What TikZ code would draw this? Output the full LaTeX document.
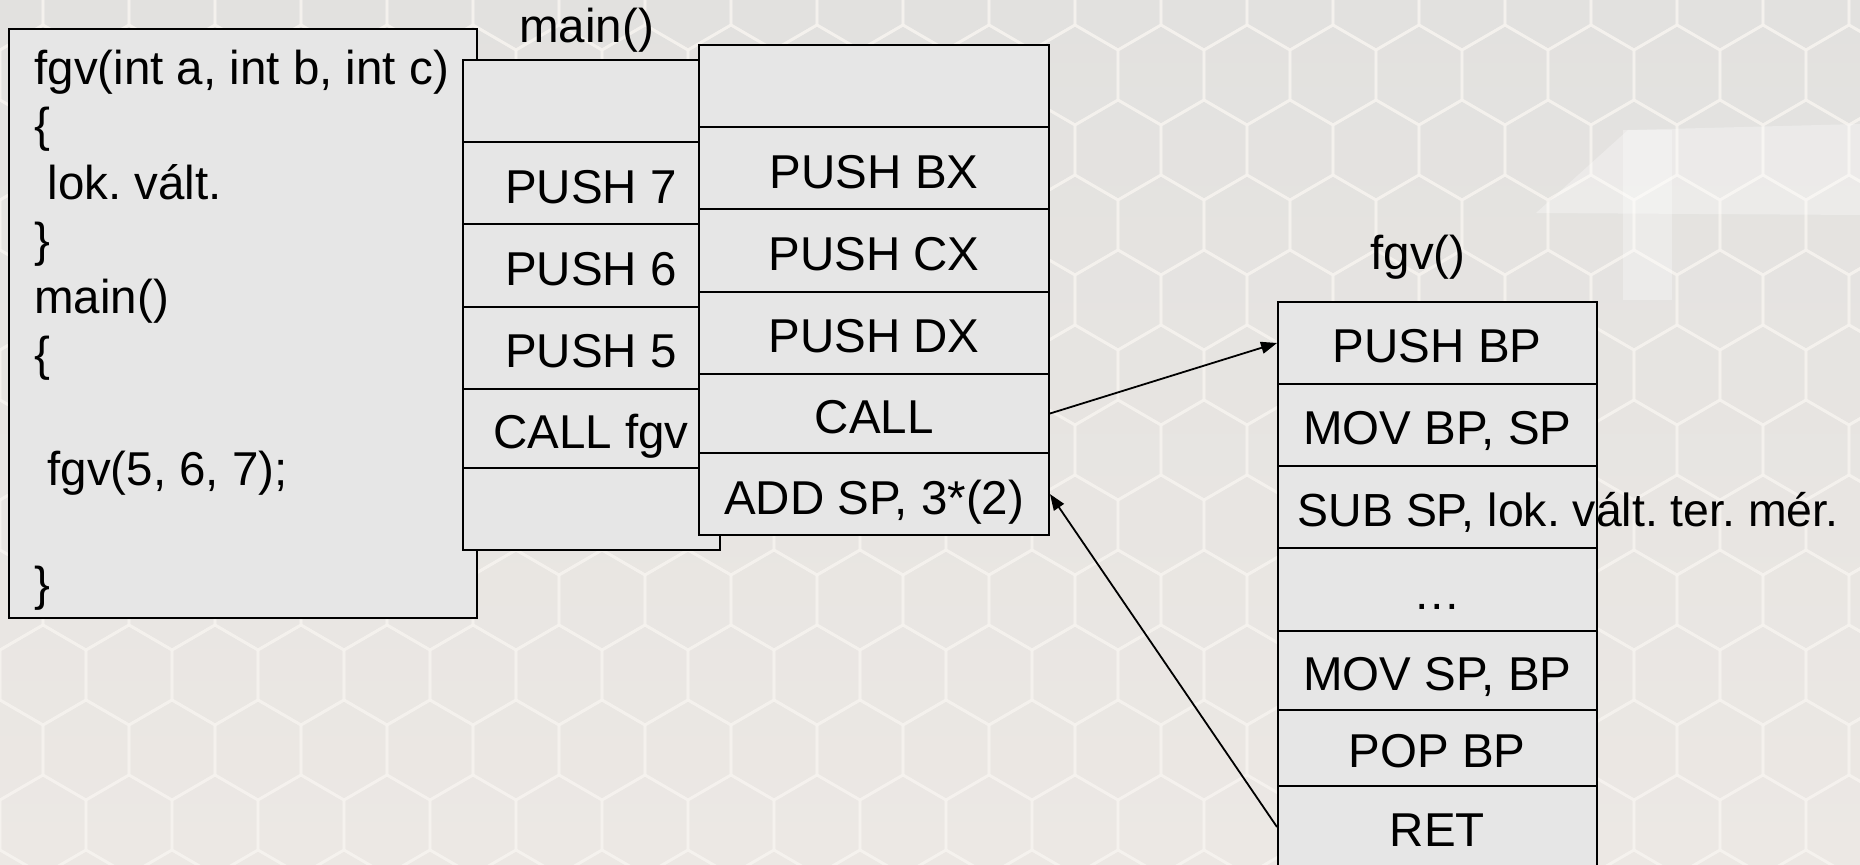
\documentclass[tikz,border=0pt]{standalone}
\usepackage{fontspec}
\setmainfont{Liberation Sans}
\usetikzlibrary{arrows.meta}
\definecolor{bgtop}{HTML}{E2E1DF}
\definecolor{bgbot}{HTML}{ECE8E4}
\definecolor{mesh}{HTML}{F6F3EF}
\definecolor{cellfill}{HTML}{E6E6E6}
\frenchspacing

\begin{document}
\begin{tikzpicture}[x=0.5pt, y=-0.5pt,
  cell/.style={draw=black, line width=1pt, fill=cellfill, inner sep=0pt,
    text height=20pt, text depth=0pt,
    font=\fontsize{23.75}{28}\selectfont},
  lbl/.style={font=\fontsize{23.75}{28}\selectfont, inner sep=0pt, anchor=base west},
  link/.style={line width=0.9pt, -{Triangle[length=8pt, width=6pt]}},
  hex/.style={draw=mesh, line width=1.4pt, opacity=0.75}
]
% canvas and backdrop
\useasboundingbox (0,0) rectangle (1860,865);
\shade[top color=bgtop, bottom color=bgbot] (0,0) rectangle (1860,865);
\foreach \j in {0,...,12}{
  \foreach \i in {-1,...,22}{
    \pgfmathsetmacro\cx{\i*86 + mod(\j,2)*43}
    \pgfmathsetmacro\cy{\j*75}
    \draw[hex] (\cx-43,\cy-25) -- (\cx-43,\cy+25) -- (\cx,\cy+50)
      -- (\cx+43,\cy+25) -- (\cx+43,\cy-25) -- (\cx,\cy-50) -- cycle;
  }
}
\fill[white, opacity=0.3] (1536,213) -- (1628,130) -- (1860,124) -- (1860,215) -- cycle;
\fill[white, opacity=0.3] (1623,130) rectangle (1672,300);

% source listing
\node[cell, minimum width=234pt, minimum height=294.5pt] (code) at (242.5,324) {};
\node[lbl] (src) at (34,84.5) {\vtop{\baselineskip=28.65pt\lineskiplimit=-100pt\lineskip=0pt
  \hbox{fgv(int a, int b, int c)}
  \hbox{\{}
  \hbox{\ lok. vált.}
  \hbox{\}}
  \hbox{main()}
  \hbox{\{}
  \hbox{}
  \hbox{\ fgv(5, 6, 7);}
  \hbox{}
  \hbox{\}}}};

% caller: argument pushes
\begin{scope}[every node/.append style={cell, minimum width=128.5pt}]
  \node[minimum height=40.8pt]  (m0) at (591,101.2) {};
  \node[minimum height=41.25pt] (m1) at (591,183.25) {PUSH 7};
  \node[minimum height=41.25pt] (m2) at (591,265.75) {PUSH 6};
  \node[minimum height=41pt]    (m3) at (591,348) {PUSH 5};
  \node[minimum height=39.5pt]  (m4) at (591,428.5) {CALL fgv};
  \node[minimum height=40.9pt]  (m5) at (591,508.9) {};
\end{scope}

% caller: register saves
\begin{scope}[every node/.append style={cell, minimum width=174.85pt}]
  \node[minimum height=41.15pt] (r0) at (874.15,86.15) {};
  \node[minimum height=41pt]    (r1) at (874.15,168.3) {PUSH BX};
  \node[minimum height=41.2pt]  (r2) at (874.15,250.5) {PUSH CX};
  \node[minimum height=41pt]    (r3) at (874.15,332.7) {PUSH DX};
  \node[minimum height=39.8pt]  (r4) at (874.15,413.5) {CALL};
  \node[minimum height=40.85pt] (r5) at (874.15,494.15) {ADD SP, 3*(2)};
\end{scope}

% callee frame
\begin{scope}[every node/.append style={cell, minimum width=159.25pt}]
  \node[minimum height=41pt]   (f0) at (1437.25,343) {PUSH BP};
  \node[minimum height=41pt]   (f1) at (1437.25,425) {MOV BP, SP};
  \node[minimum height=41pt]   (f2) at (1437.25,507)
    {\makebox[0pt][l]{\kern-69.75pt\fontsize{23.2}{28}\selectfont SUB SP, lok. vált. ter. mér.}};
  \node[minimum height=41.5pt] (f3) at (1437.25,589.5) {…};
  \node[minimum height=39.5pt] (f4) at (1437.25,670.5) {MOV SP, BP};
  \node[minimum height=38pt]   (f5) at (1437.25,748) {POP BP};
  \node[minimum height=41pt]   (f6) at (1437.25,827) {RET};
\end{scope}

% titles
\node[lbl] (mainlbl) at (519,43) {main()};
\node[lbl] (fgvlbl) at (1370,270) {fgv()};

% call and return
\draw[link] (r4.east) -- (f0.west);
\draw[link] (f6.west) -- (r5.east);
\end{tikzpicture}
\end{document}
